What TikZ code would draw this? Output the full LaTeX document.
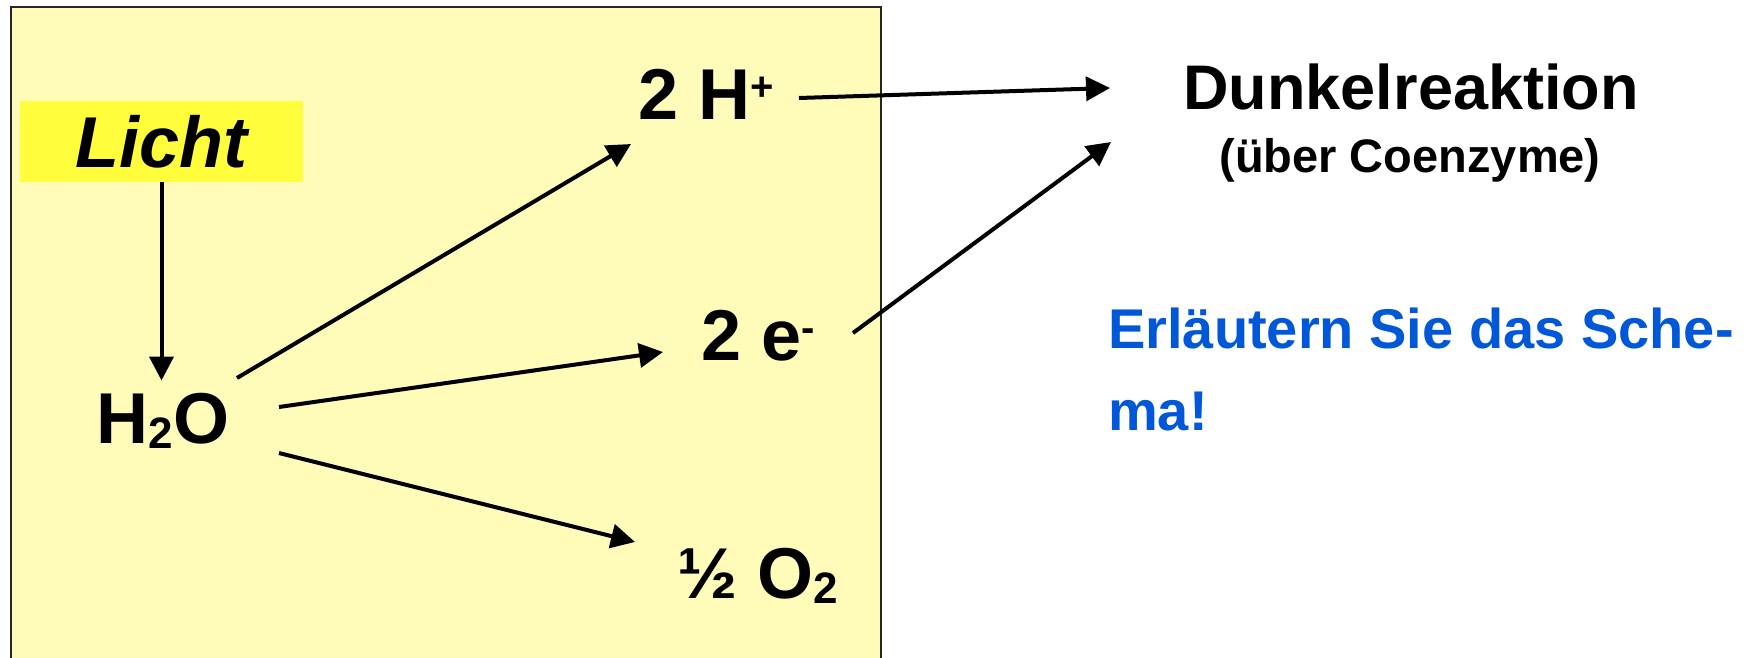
\documentclass[tikz,border=0pt]{standalone}
\usepackage{fontspec}
\setmainfont{Liberation Sans}
\usetikzlibrary{arrows.meta,calc}
\definecolor{boxyellow}{HTML}{FFFCBA}
\definecolor{lichtyellow}{HTML}{FFFD3C}
\definecolor{askblue}{HTML}{0057D8}
\newcommand\mysup[1]{\raisebox{19pt}{\fontsize{40}{40}\selectfont #1}}
\newcommand\mysub[1]{\raisebox{-5pt}{\fontsize{44}{44}\selectfont #1}}
\begin{document}
\begin{tikzpicture}[x=1pt,y=-1pt,
  chem/.style={inner sep=0pt, anchor=base, font=\fontsize{72}{80}\selectfont\bfseries},
  arr/.style={line width=4pt, -{Triangle[length=24pt,width=24pt]}}]
\useasboundingbox (0,0) rectangle (1748,658);
\fill[boxyellow] (11,7) rectangle (881,658);
\draw[line width=2.5pt, black!85] (11,658) -- (11,7) -- (881,7) -- (881,658);
\node[fill=lichtyellow, minimum width=283pt, minimum height=81pt, inner sep=0pt,
  font=\fontsize{72}{80}\selectfont\bfseries\itshape] (licht) at (161.5,141.5) {Licht};
\node[chem] (h2o) at (163,443) {H\mysub{2}O};
\node[chem] (hplus) at (706,120) {2 H\mysup{+}};
\node[chem] (eminus) at (758.5,360) {2 e\mysup{-}};
\node[chem] (o2) at (758,598) {½ O\mysub{2}};
\node[font=\fontsize{63}{70}\selectfont\bfseries, inner sep=0pt, anchor=base] (dunkel) at (1411,110) {Dunkelreaktion};
\node[font=\fontsize{47}{50}\selectfont\bfseries, inner sep=0pt, anchor=base] (coenz) at (1410,172) {(über Coenzyme)};
\node[font=\fontsize{56}{82}\selectfont\bfseries, text=askblue, inner sep=0pt, anchor=base west, align=left] (ask) at (1108,430) {Erläutern Sie das Sche-\\ma!};
\draw[arr] (licht.south) -- ($(licht.south |- h2o.north)+(0,-12)$);
\draw[arr] ($(h2o.base)+(74,-65)$) -- ($(hplus.base)+(-75,24)$);
\draw[arr] ($(h2o.base)+(116,-36)$) -- ($(eminus.base)+(-95.5,-8)$);
\draw[arr] ($(h2o.base)+(116,10)$) -- ($(o2.base)+(-123,-56)$);
\draw[arr] ($(hplus.base)+(93,-22)$) -- ($(dunkel.base)+(-301,-22)$);
\draw[arr] ($(eminus.base)+(94.5,-27)$) -- ($(dunkel.base)+(-300,32)$);
\end{tikzpicture}
\end{document}
